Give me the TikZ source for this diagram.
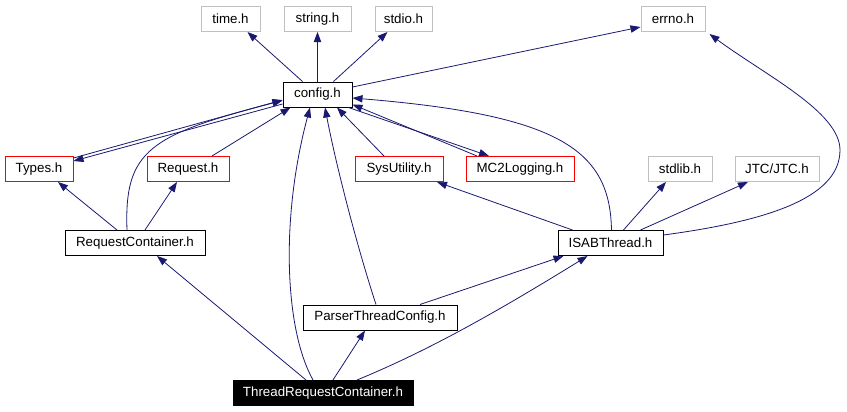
\documentclass[tikz,border=0pt]{standalone}
\usepackage{fontspec}
\setmainfont{Liberation Sans}
\usetikzlibrary{arrows.meta,calc}
\definecolor{edgeblue}{HTML}{191970}
\definecolor{sysgray}{HTML}{BFBFBF}
\begin{document}
\begin{tikzpicture}[x=0.75pt,y=-0.75pt,
  box/.style={draw, rectangle, inner sep=0pt, minimum height=18.75pt, font=\fontsize{10pt}{12pt}\selectfont, line width=0.75pt},
  sysbox/.style={box, draw=sysgray},
  projbox/.style={box, draw=black},
  redbox/.style={box, draw=red},
  rootbox/.style={box, draw=black, fill=black, text=white},
  edge/.style={draw=edgeblue, line width=0.6pt, -{Triangle[length=7.5pt,width=5.5pt]}}
]
\useasboundingbox (0,0) rectangle (847,411);

\node[sysbox, minimum width=44.25pt] (time) at (230.5,19) {time.h};
\node[sysbox, minimum width=50.25pt] (string) at (317.5,19) {string.h};
\node[sysbox, minimum width=42.75pt] (stdio) at (403.5,19) {stdio.h};
\node[sysbox, minimum width=48pt] (errno) at (673,19) {errno.h};
\node[projbox, minimum width=51.75pt] (config) at (317.5,94.5) {config.h};
\node[redbox, minimum width=51pt] (types) at (39,169) {Types.h};
\node[redbox, minimum width=61.5pt] (request) at (188,169) {Request.h};
\node[redbox, minimum width=66pt] (sysutil) at (399,169) {SysUtility.h};
\node[redbox, minimum width=81pt] (mc2) at (520,169) {MC2Logging.h};
\node[sysbox, minimum width=48pt] (stdlib) at (680,169) {stdlib.h};
\node[sysbox, minimum width=63pt] (jtc) at (777,169) {JTC/JTC.h};
\node[projbox, minimum width=105pt] (rc) at (135,243) {RequestContainer.h};
\node[projbox, minimum width=78.75pt] (isab) at (610.5,243) {ISABThread.h};
\node[projbox, minimum width=115.5pt] (ptc) at (380,317.5) {ParserThreadConfig.h};
\node[rootbox, minimum width=135pt] (trc) at (323,393) {ThreadRequestContainer.h};
\coordinate (bendE) at (840,150);

% config.h includes
\draw[edge] ($(config.north)+(-15,0)$) -- ($(time.south)+(17,0)$);
\draw[edge] (config.north) -- (string.south);
\draw[edge] ($(config.north)+(16,0)$) -- ($(stdio.south)+(-16,0)$);
\draw[edge] ($(config.east)+(0,-7.5)$) -- ($(errno.west)+(0,8)$);
\draw[edge] ($(config.west)+(0,9.5)$) -- ($(types.east)+(0,-8)$);
\draw[edge] ($(config.south east)+(-4,0)$) -- ($(mc2.north)+(-31,0)$);

% into config.h
\draw[edge] ($(types.east)+(0,-11)$) -- ($(config.west)+(0,5.5)$);
\draw[edge] ($(rc.north)+(-8,0)$) .. controls (124,150) and (150,135) .. ($(config.west)+(0,6)$);
\draw[edge] ($(request.north)+(24,0)$) -- ($(config.south west)+(8,0)$);
\draw[edge] ($(sysutil.north)+(-15,0)$) -- ($(config.south)+(19.5,0)$);
\draw[edge] ($(mc2.north)+(-43,0)$) -- ($(config.east)+(0,10)$);
\draw[edge] ($(isab.north)+(1,0)$) .. controls (610,150) and (560,115) .. ($(config.east)+(0,3.5)$);
\draw[edge] ($(ptc.north)+(-4,0)$) .. controls (355,240) and (335,160) .. ($(config.south)+(7.5,0)$);
\draw[edge] ($(trc.north)+(-10,0)$) .. controls (285,330) and (280,220) .. ($(config.south)+(-7.5,0)$);

% ISABThread.h includes
\draw[edge] ($(isab.east)+(0,-8)$) .. controls (760,222) and (840,200) .. (bendE) .. controls (840,112) and (765,75) .. ($(errno.south east)+(4,2)$);
\draw[edge] ($(isab.north)+(13,0)$) -- ($(stdlib.south)+(-14,0)$);
\draw[edge] ($(isab.north)+(30,0)$) -- ($(jtc.south)+(-29,0)$);
\draw[edge] ($(isab.north)+(-38,0)$) -- ($(sysutil.south)+(38,0)$);

% RequestContainer.h includes
\draw[edge] ($(rc.north)+(-18,0)$) -- ($(types.south)+(19,0)$);
\draw[edge] ($(rc.north)+(10,0)$) -- ($(request.south)+(-11,0)$);

% ParserThreadConfig.h includes
\draw[edge] ($(ptc.north)+(40,0)$) -- ($(isab.south)+(-47,0)$);

% ThreadRequestContainer.h includes
\draw[edge] ($(trc.north)+(-17,0)$) -- ($(rc.south)+(22,0)$);
\draw[edge] ($(trc.north)+(10,0)$) -- ($(ptc.south)+(-15,0)$);
\draw[edge] ($(trc.north)+(34,0)$) .. controls (430,350) and (500,310) .. ($(isab.south)+(-23,0)$);
\end{tikzpicture}
\end{document}
